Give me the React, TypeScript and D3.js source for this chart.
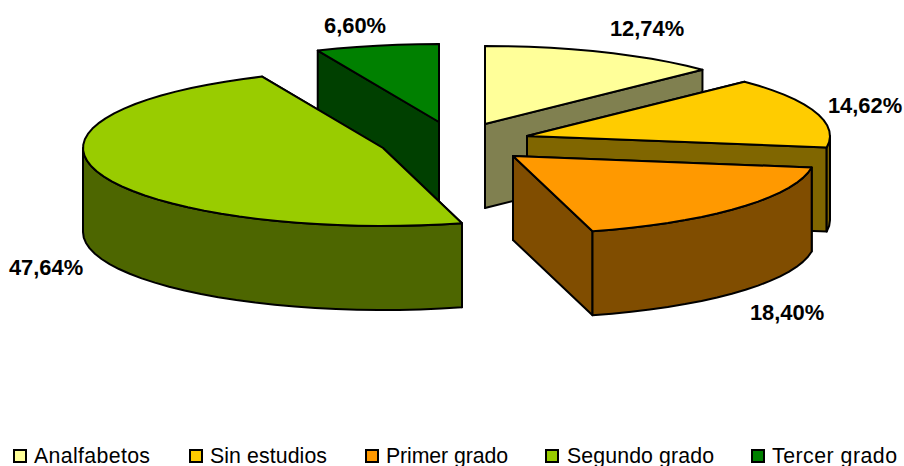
import React from "react";
import * as d3 from "d3";

const categories = ["Analfabetos", "Sin estudios", "Primer grado", "Segundo grado", "Tercer grado"];
const values = [12.74, 14.62, 18.4, 47.64, 6.6];
const valueLabels = ["12,74%", "14,62%", "18,40%", "47,64%", "6,60%"];
const topColors = ["#FFFF99", "#FFCC00", "#FF9900", "#99CC00", "#008000"];
const sideColors = ["#808050", "#806600", "#804D00", "#4D6600", "#004000"];

// layout
const apexes: [number, number][] = [[485, 124], [527, 136], [513, 156], [383, 148], [439, 122]];
const radiiX = [303, 303, 302, 300, 301];
const labelPos: [number, number][] = [[647, 36], [865, 113], [787, 320], [46, 275], [355, 33]];
const legendSwatchX = [14, 190, 366, 546, 752];
const legendTextX = [34, 210, 386, 567, 772];
const legendTextLen = [116, 117, 122, 147, 125];
const drawOrder = [0, 1, 2, 4, 3];
const RY = 78, DEPTH = 84;

const pieGen = d3.pie<number>().sort(null).startAngle(0).endAngle(2 * Math.PI);
const line = d3.line();

function pt(c: [number, number], rx: number, a: number, dy = 0): [number, number] {
  return [c[0] + rx * Math.sin(a), c[1] - RY * Math.cos(a) + dy];
}
function arcPts(c: [number, number], rx: number, a0: number, a1: number, dy = 0) {
  const n = Math.max(1, Math.round((a1 - a0) / (Math.PI / 45)));
  return d3.range(n + 1).map((i) => pt(c, rx, a0 + ((a1 - a0) * i) / n, dy));
}

export default function App() {
  const arcs = pieGen(values);
  const common = { stroke: "#000", strokeWidth: 2, strokeLinejoin: "round" as const };
  return (
    <svg width={904} height={466} style={{ position: "absolute", left: 0, top: 0, background: "#fff" }}>
      {drawOrder.map((i) => {
        const { startAngle: a0, endAngle: a1 } = arcs[i];
        const c = apexes[i];
        const rx = radiiX[i];
        const wall = (a: number) =>
          line([c, pt(c, rx, a), pt(c, rx, a, DEPTH), [c[0], c[1] + DEPTH]])! + "Z";
        const o0 = Math.max(a0, Math.PI / 2);
        const o1 = Math.min(a1, (3 * Math.PI) / 2);
        const outer =
          o1 > o0
            ? line([...arcPts(c, rx, o0, o1), ...arcPts(c, rx, o0, o1, DEPTH).reverse()])! + "Z"
            : null;
        const top = line([c, ...arcPts(c, rx, a0, a1)])! + "Z";
        return (
          <g key={categories[i]}>
            <path d={wall(a0)} fill={sideColors[i]} {...common} />
            <path d={wall(a1)} fill={sideColors[i]} {...common} />
            {outer && <path d={outer} fill={sideColors[i]} {...common} />}
            <path d={top} fill={topColors[i]} {...common} />
          </g>
        );
      })}
      {valueLabels.map((t, i) => (
        <text
          key={t}
          x={labelPos[i][0]}
          y={labelPos[i][1]}
          textAnchor="middle"
          fontFamily="'Liberation Sans', Arial, sans-serif"
          fontWeight="bold"
          fontSize={21.9}
          fill="#000"
        >
          {t}
        </text>
      ))}
      {categories.map((t, i) => (
        <g key={t}>
          <rect x={legendSwatchX[i]} y={450} width={12} height={12} fill={topColors[i]} stroke="#000" strokeWidth={2} />
          <text
            x={legendTextX[i]}
            y={463}
            textLength={legendTextLen[i]}
            lengthAdjust="spacing"
            fontFamily="'Liberation Sans', Arial, sans-serif"
            fontSize={21.3}
            fill="#000"
          >
            {t}
          </text>
        </g>
      ))}
    </svg>
  );
}
